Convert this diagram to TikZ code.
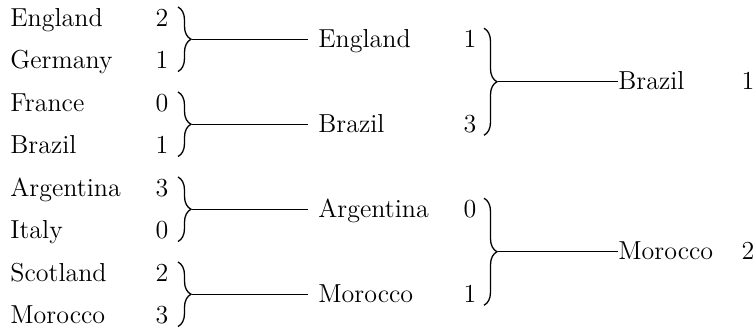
\documentclass[tikz,border=0pt]{standalone}
\usepackage{tikz}
\usetikzlibrary{decorations.pathreplacing, positioning}

\begin{document}
\begin{tikzpicture}[
    x=0.5pt, y=-0.5pt,
    team/.style={inner sep=0pt, anchor=west, text height=8pt, text depth=0pt, font=\fontsize{13}{16}\selectfont},
    score/.style={inner sep=0pt, anchor=center, text height=8pt, text depth=0pt, font=\fontsize{13}{16}\selectfont},
    bracket/.style={decorate, decoration={brace, amplitude=6.5pt}, line width=0.65pt},
    link/.style={line width=0.65pt}
]
\useasboundingbox (0,0) rectangle (756,333);

% First round
\node[team] (england) at (10,18) {England};
\node[team] (germany) at (10,60.5) {Germany};
\node[team] (france) at (10,103) {France};
\node[team] (brazil) at (10,145.5) {Brazil};
\node[team] (argentina) at (10,188) {Argentina};
\node[team] (italy) at (10,230.5) {Italy};
\node[team] (scotland) at (10,273) {Scotland};
\node[team] (morocco) at (10,315.5) {Morocco};

\node[score] (england-s) at (162,18) {2};
\node[score] (germany-s) at (162,60.5) {1};
\node[score] (france-s) at (162,103) {0};
\node[score] (brazil-s) at (162,145.5) {1};
\node[score] (argentina-s) at (162,188) {3};
\node[score] (italy-s) at (162,230.5) {0};
\node[score] (scotland-s) at (162,273) {2};
\node[score] (morocco-s) at (162,315.5) {3};

% Semi-finals
\node[team] (englandsf) at (318,39.25) {England};
\node[team] (brazilsf) at (318,124.25) {Brazil};
\node[team] (argentinasf) at (318,209.25) {Argentina};
\node[team] (moroccosf) at (318,294.25) {Morocco};

\node[score] (englandsf-s) at (470,39.25) {1};
\node[score] (brazilsf-s) at (470,124.25) {3};
\node[score] (argentinasf-s) at (470,209.25) {0};
\node[score] (moroccosf-s) at (470,294.25) {1};

% Final
\node[team] (brazilf) at (618,81.75) {Brazil};
\node[team] (moroccof) at (618,251.75) {Morocco};

\node[score] (brazilf-s) at (748,81.75) {1};
\node[score] (moroccof-s) at (748,251.75) {2};

% Braces
\draw[bracket] (178,7) -- (178,71.5);
\draw[bracket] (178,92) -- (178,156.5);
\draw[bracket] (178,177) -- (178,241.5);
\draw[bracket] (178,262) -- (178,326.5);
\draw[bracket] (484,28.25) -- (484,135.25);
\draw[bracket] (484,198.25) -- (484,305.25);

\coordinate (tip1) at (192,39.25);
\coordinate (tip2) at (192,124.25);
\coordinate (tip3) at (192,209.25);
\coordinate (tip4) at (192,294.25);
\coordinate (tip5) at (498,81.75);
\coordinate (tip6) at (498,251.75);

% Connections
\draw[link, shorten >=5pt] (tip1) -- (englandsf);
\draw[link, shorten >=5pt] (tip2) -- (brazilsf);
\draw[link, shorten >=5pt] (tip3) -- (argentinasf);
\draw[link, shorten >=5pt] (tip4) -- (moroccosf);
\draw[link] (tip5) -- (brazilf);
\draw[link] (tip6) -- (moroccof);
\end{tikzpicture}
\end{document}
